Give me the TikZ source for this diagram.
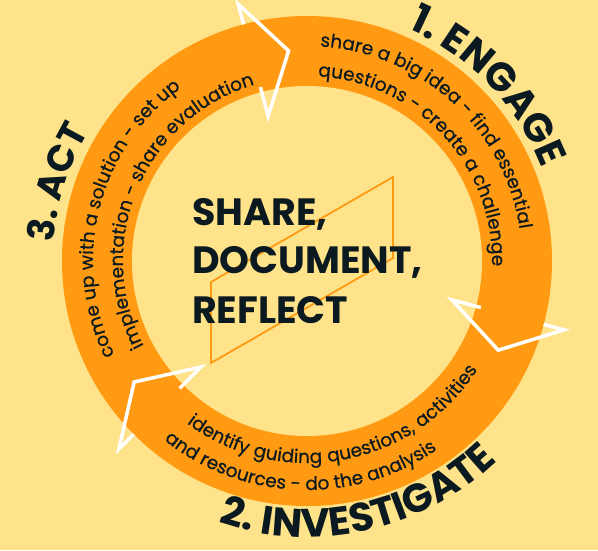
\documentclass[tikz,border=0pt]{standalone}
\usepackage{fontspec}
\setmainfont{Poppins}
\newfontfamily\bodyfont{Poppins}[FakeBold=0.6]
\newfontfamily\widebodyfont{Poppins}[FakeBold=0.6, LetterSpace=4]
\usetikzlibrary{decorations.text}
\definecolor{bgyellow}{HTML}{FFE38A}
\definecolor{ringorange}{HTML}{FF9A12}
\definecolor{inkdark}{HTML}{0B1A20}
\tikzset{
  arrowline/.style={draw=white, line width=3.5pt, line join=miter, miter limit=20},
  cwtext/.style={decorate, decoration={text along path, text align=center, text color=inkdark, text={#1}}},
  frameline/.style={draw=ringorange, line width=1.8pt, line join=miter},
  bigword/.style={font=\bfseries\fontsize{38pt}{44pt}\selectfont, text=inkdark, anchor=base west, inner sep=0pt}
}
\newcommand{\bodysize}{\bodyfont\fontsize{18.5pt}{21pt}\selectfont}
\newcommand{\widebodysize}{\widebodyfont\fontsize{18.5pt}{21pt}\selectfont}
\begin{document}
\begin{tikzpicture}[x=1pt,y=1pt]
\useasboundingbox (-307,-289) rectangle (291,261);
\fill[bgyellow] (-307,-289) rectangle (291,261);
\coordinate (O) at (0,0);
% ring
\fill[ringorange] (O) circle (245pt);
\fill[bgyellow] (O) circle (175pt);
% arrowheads
\foreach \t in {95,-25,215} {
  \draw[arrowline] ({\t+10}:180pt) -- ({\t+10}:150pt) -- (\t:211pt) -- ({\t+10}:266pt) -- ({\t+10}:245pt);
}
% parallelogram
\coordinate (p1) at (-96,-21);
\coordinate (p2) at (86,84);
\coordinate (p3) at (86,3);
\coordinate (p4) at (-96,-102);
\draw[frameline] (p1) -- (p2) -- (p3) -- (p4) -- cycle;
% centre words
\node[bigword] (w1) at (-115,36) {SHARE,};
\node[bigword] (w2) at (-115,-12) {DOCUMENT,};
\node[bigword] (w3) at (-115,-62) {REFLECT};
% segment 1 (engage)
\path[cwtext={|\bodysize|share a big idea - find essential}]
  (132.5:215pt) arc[start angle=132.5, end angle=-37.5, radius=215pt];
\path[cwtext={|\bodysize|questions - create a challenge}]
  (127.5:185pt) arc[start angle=127.5, end angle=-42.5, radius=185pt];
\path[cwtext={|\bfseries\fontsize{40pt}{42pt}\selectfont|1. ENGAGE}]
  (129:253pt) arc[start angle=129, end angle=-41, radius=253pt];
% segment 2 (investigate)
\path[cwtext={|\widebodysize|identify guiding questions, activities}]
  (-164.5:202pt) arc[start angle=-164.5, end angle=5.5, radius=202pt];
\path[cwtext={|\bodysize|and resources - do the analysis}]
  (-177:229pt) arc[start angle=-177, end angle=-7, radius=229pt];
\path[cwtext={|\bfseries\fontsize{40pt}{42pt}\selectfont|2. INVESTIGATE}]
  (-162.5:276pt) arc[start angle=-162.5, end angle=7.5, radius=276pt];
% segment 3 (act)
\path[cwtext={|\bodysize|come up with a solution - set up}]
  (251:214pt) arc[start angle=251, end angle=81, radius=214pt];
\path[cwtext={|\bodysize|implementation - share evaluation}]
  (242:184pt) arc[start angle=242, end angle=72, radius=184pt];
\path[cwtext={|\bfseries\fontsize{37pt}{40pt}\selectfont|3. ACT}]
  (247.5:254pt) arc[start angle=247.5, end angle=77.5, radius=254pt];
\end{tikzpicture}
\end{document}
